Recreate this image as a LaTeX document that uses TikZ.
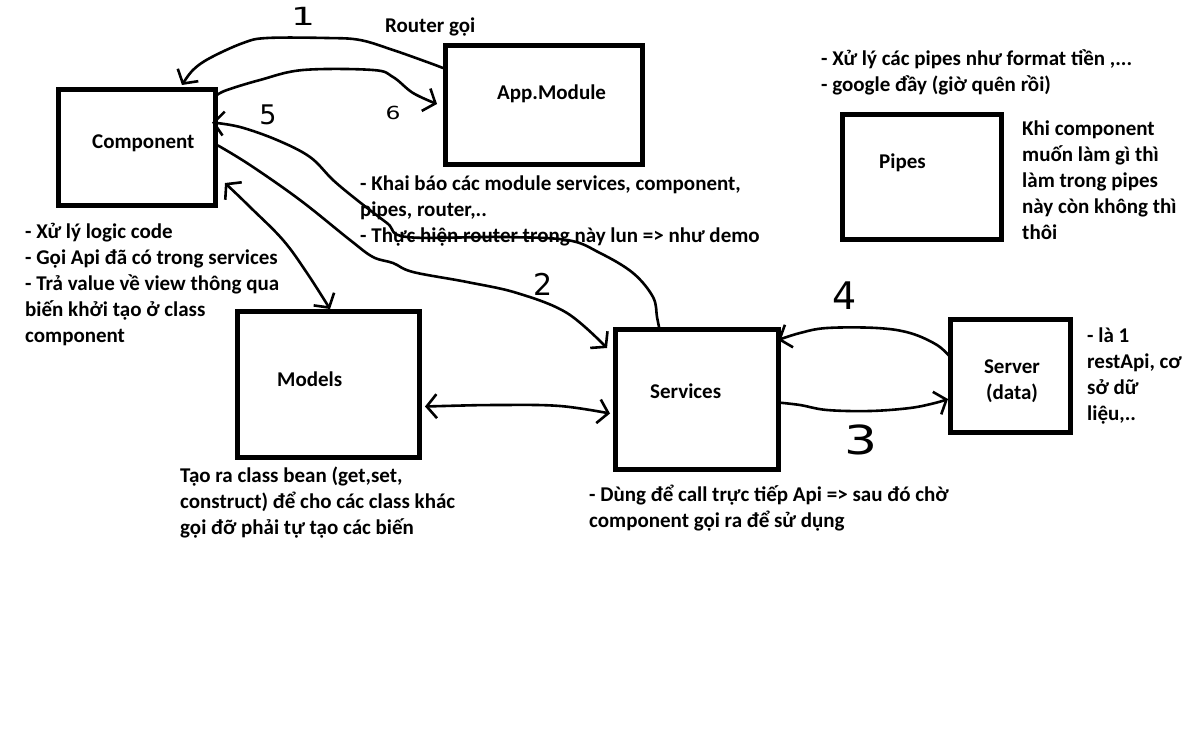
\documentclass[tikz,border=0pt]{standalone}
\usepackage{fontspec}
\setmainfont{Carlito}
\newfontfamily\digitfont{DejaVu Sans}
\usetikzlibrary{arrows.meta,calc}
\newcommand\lnstrut{\rule{0pt}{18pt}}

\begin{document}
\begin{tikzpicture}[x=1pt,y=-1pt,
  box/.style={draw,line width=5pt,inner sep=0pt},
  txt/.style={font=\bfseries\fontsize{21}{26}\selectfont,inner sep=0pt,anchor=base west},
  para/.style={font=\bfseries\fontsize{21}{26}\selectfont,inner sep=0pt,anchor=north west,align=left},
  num/.style={font=\digitfont\fontsize{#1}{#1}\selectfont,inner sep=0pt},
  conn/.style={line width=2.6pt,line cap=round,line join=round},
  >={Straight Barb[length=10pt,width=24pt]}]

\path[use as bounding box,fill=white] (0,0) rectangle (1183,742);

% boxes
\node[box,minimum width=157pt,minimum height=116pt] (comp)   at (137,147.5) {};
\node[box,minimum width=197pt,minimum height=119pt] (app)    at (544,105) {};
\node[box,minimum width=182pt,minimum height=146pt] (models) at (328.5,384.5) {};
\node[box,minimum width=163pt,minimum height=140pt] (svc)    at (697,399.5) {};
\node[box,minimum width=120pt,minimum height=113pt] (srv)    at (1010.5,376) {};
\node[box,minimum width=159pt,minimum height=125pt] (pipes)  at (922,177) {};

% box titles
\node[txt] (tcomp)   at (92,148)  {Component};
\node[txt] (tapp)    at (497,99)  {App.Module};
\node[txt] (tpipes)  at (879,168) {Pipes};
\node[txt] (tmodels) at (277,386) {Models};
\node[txt] (tsvc)    at (650,398) {Services};
\node[para,anchor=north,align=center] (tsrv) at (1012,355) {\lnstrut Server\\(data)};

% notes
\node[txt] (router) at (385,32) {Router gọi};
\node[para] (compdesc) at (25,220) {\lnstrut - Xử lý logic code\\- Gọi Api đã có trong services\\- Trả value về view thông qua\\biến khởi tạo ở class\\component};
\node[para] (appdesc) at (360,172) {\lnstrut - Khai báo các module services, component,\\pipes, router,..\\- Thực hiện router trong này lun => như demo};
\node[para] (pipestop) at (821,47) {\lnstrut - Xử lý các pipes như format tiền ,...\\- google đầy (giờ quên rồi)};
\node[para] (pipesdesc) at (1022,117) {\lnstrut Khi component\\muốn làm gì thì\\làm trong pipes\\này còn không thì\\thôi};
\node[para] (srvdesc) at (1087,324) {\lnstrut - là 1\\restApi, cơ\\sở dữ\\liệu,..};
\node[para] (modeldesc) at (180,464) {\lnstrut Tạo ra class bean (get,set,\\construct) để cho các class khác\\gọi đỡ phải tự tạo các biến};
\node[para] (svcdesc) at (589,483) {\lnstrut - Dùng để call trực tiếp Api => sau đó chờ\\component gọi ra để sử dụng};

% connector end points
\coordinate (a1s) at ($(app.west)+(0,-37)$);
\coordinate (a1e) at ($(comp.north)+(45,-2)$);
\coordinate (a6s) at ($(comp.north east)+(-1,8)$);
\coordinate (a6e) at ($(app.west)+(-6,-1)$);
\coordinate (a5s) at ($(svc.north west)+(46,0)$);
\coordinate (a5e) at ($(comp.east)+(-6,-25)$);
\coordinate (a2s) at ($(comp.east)+(0,-2)$);
\coordinate (a2e) at ($(svc.north west)+(-6,21)$);
\coordinate (cms) at ($(comp.south east)+(7,-25)$);
\coordinate (cme) at ($(models.north)+(1.5,0)$);
\coordinate (mss) at ($(models.east)+(3,22)$);
\coordinate (mse) at ($(svc.west)+(-3,14)$);
\coordinate (a3s) at ($(svc.east)+(-3,3)$);
\coordinate (a3e) at ($(srv.west)+(0,23)$);
\coordinate (a4s) at ($(srv.west)+(3,-18)$);
\coordinate (a4e) at ($(svc.north east)+(-3,13)$);

% 1: App.Module -> Component
\draw[conn,->] plot[smooth,tension=0.6] coordinates {(a1s) (427,62) (393,50) (360,40) (327,38) (267,38) (243,43) (210,58) (193,70) (a1e)};
% 6: Component -> App.Module
\draw[conn,->] plot[smooth,tension=0.6] coordinates {(a6s) (227,90) (260,80) (303,70) (373,70) (393,77) (413,93) (a6e)};
% 5: Services -> Component
\draw[conn,->] plot[smooth,tension=0.6] coordinates {(a5s) (657,317) (653,297) (633,273) (600,253) (567,240) (500,237) (407,237) (387,223) (357,200) (333,180) (310,157) (277,140) (240,127) (a5e)};
% 2: Component -> Services
\draw[conn,->] plot[smooth,tension=0.6] coordinates {(a2s) (250,165) (300,200) (350,240) (373,257) (393,263) (413,272) (467,282) (517,293) (567,313) (a2e)};
% Component <-> Models
\draw[conn,<->] plot[smooth,tension=0.6] coordinates {(cms) (250,207) (283,240) (307,273) (cme)};
% Models <-> Services
\draw[conn,<->] plot[smooth,tension=0.6] coordinates {(mss) (500,405) (560,406) (mse)};
% 3: Services -> Server
\draw[conn,->] plot[smooth,tension=0.6] coordinates {(a3s) (800,405) (827,410) (870,411) (910,408) (935,403) (a3e)};
% 4: Server -> Services
\draw[conn,->] plot[smooth,tension=0.6] coordinates {(a4s) (937,345) (910,333) (877,328) (827,328) (800,333) (a4e)};

% step numbers
\node[num=25,xscale=1.5] (n1) at (303,16)  {1};
\node[num=30] (n2) at (543,284) {2};
\node[num=40,xscale=1.3] (n3) at (861,440) {3};
\node[num=38] (n4) at (845,296) {4};
\node[num=27] (n5) at (268,115) {5};
\node[num=18,xscale=1.3] (n6) at (393,113) {6};
\end{tikzpicture}
\end{document}
